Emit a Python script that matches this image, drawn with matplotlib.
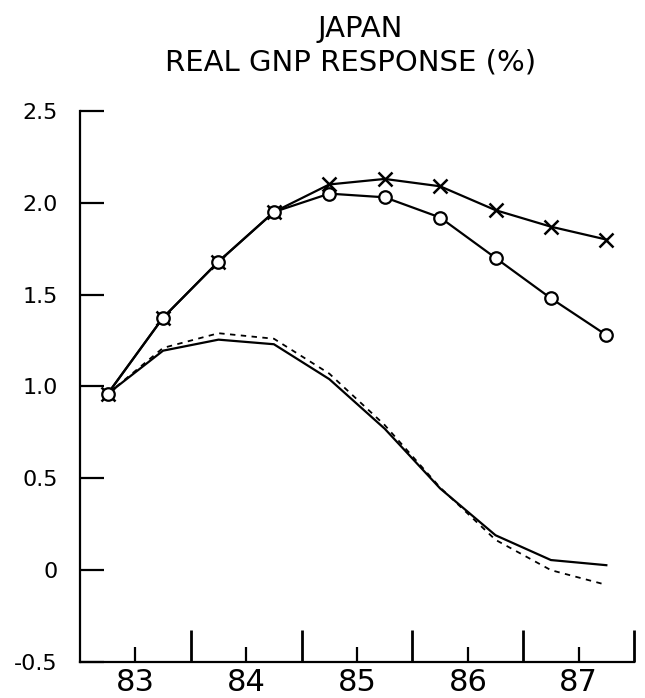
import numpy as np
import matplotlib.pyplot as plt
from matplotlib.ticker import FixedLocator, NullFormatter

plt.rcParams['font.family'] = ['Liberation Sans Narrow', 'DejaVu Sans Condensed', 'DejaVu Sans']

# полугодовые точки (в годах)
periods = [82.75, 83.25, 83.75, 84.25, 84.75, 85.25, 85.75, 86.25, 86.75, 87.25]

# отклик реального ВНП, %
resp_x = [0.96, 1.375, 1.68, 1.95, 2.10, 2.13, 2.09, 1.96, 1.87, 1.80]
resp_o = [0.96, 1.375, 1.68, 1.95, 2.05, 2.03, 1.92, 1.70, 1.48, 1.28]
resp_solid = [0.96, 1.195, 1.255, 1.23, 1.04, 0.77, 0.445, 0.19, 0.055, 0.027]
resp_dash = [0.96, 1.21, 1.29, 1.26, 1.07, 0.79, 0.45, 0.165, 0.0, -0.08]

year_labels = ['83', '84', '85', '86', '87']
year_pos = [83, 84, 85, 86, 87]
year_bounds = [83.5, 84.5, 85.5, 86.5, 87.5]
y_ticks = [-0.5, 0, 0.5, 1.0, 1.5, 2.0, 2.5]
y_labels = ['-0.5', '0', '0.5', '1.0', '1.5', '2.0', '2.5']

fig = plt.figure(figsize=(6.45, 6.98), dpi=100)
ax = fig.add_axes([0.124, 0.0516, 0.859, 0.7894])

ax.plot(periods, resp_x, color='black', lw=1.6, marker='x', ms=10, mew=1.8, zorder=3)
ax.plot(periods, resp_o, color='black', lw=1.6, marker='o', ms=9, mew=1.6,
        mfc='white', zorder=4)
ax.plot(periods, resp_solid, color='black', lw=1.6, zorder=2)
ax.plot(periods, resp_dash, color='black', lw=1.3, ls=(0, (3, 3)), zorder=2)

ax.set_xlim(82.5, 87.5)
ax.set_ylim(-0.5, 2.5)

for side in ['top', 'right']:
    ax.spines[side].set_visible(False)
for side in ['left', 'bottom']:
    ax.spines[side].set_linewidth(1.6)

ax.set_yticks(y_ticks)
ax.set_yticklabels(y_labels, fontsize=16)
ax.tick_params(axis='y', direction='in', length=17, width=1.6, pad=16)

# подписи годов в середине, длинные риски на границах годов
ax.xaxis.set_major_locator(FixedLocator(year_pos))
ax.set_xticklabels(year_labels, fontsize=22)
ax.xaxis.set_minor_locator(FixedLocator(year_bounds))
ax.xaxis.set_minor_formatter(NullFormatter())
ax.tick_params(axis='x', which='major', direction='in', length=11, width=1.6, pad=4)
ax.tick_params(axis='x', which='minor', direction='in', length=23, width=2.0)

fig.text(0.558, 0.978, 'JAPAN', ha='center', va='top', fontsize=21)
fig.text(0.543, 0.93, 'REAL GNP RESPONSE (%)', ha='center', va='top', fontsize=21)

fig.savefig('out.png', dpi=100)
